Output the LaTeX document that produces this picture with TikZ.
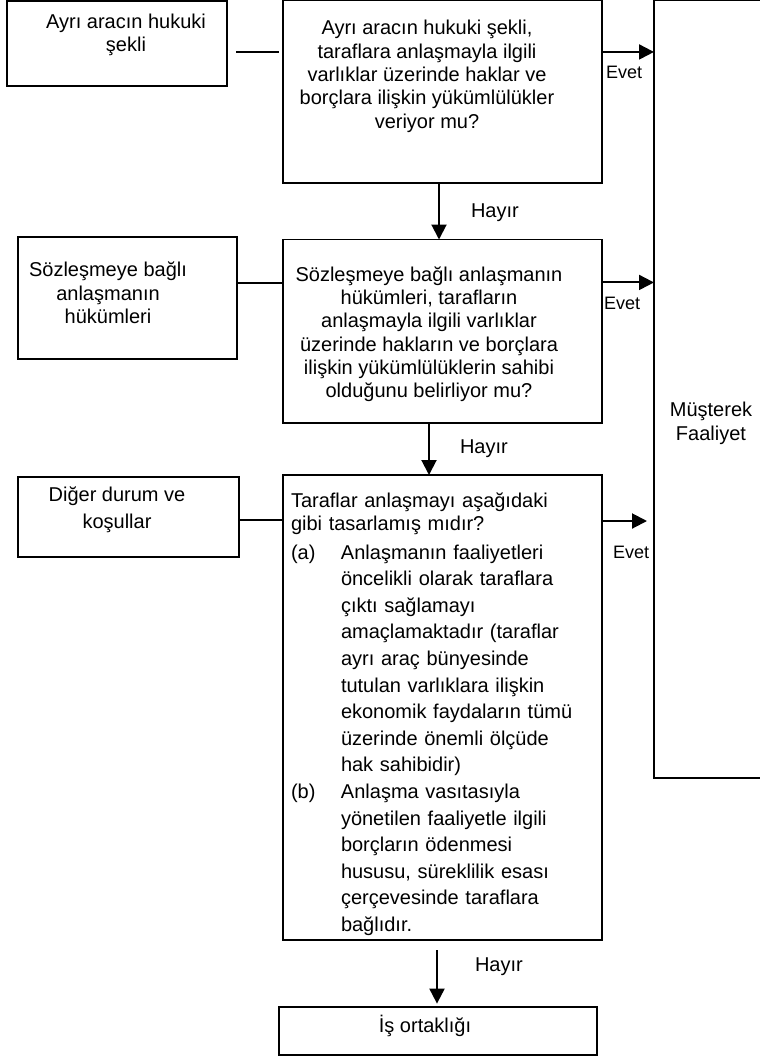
\documentclass[tikz,border=0pt]{standalone}
\usepackage{fontspec}
\setmainfont{Liberation Sans}
\usetikzlibrary{arrows.meta, positioning}
\newcommand{\qitem}[2]{\par\hangindent=25pt\hangafter=1\noindent\makebox[25pt][l]{#1}#2\par}

\begin{document}
\begin{tikzpicture}[>={Triangle[length=7.5pt, width=7.5pt]},
every node/.style={inner sep=0pt, outer sep=0pt},
boxframe/.style={rectangle, draw, line width=0.75pt},
txt/.style={align=center, font=\fontsize{10}{11.65}\selectfont},
answer/.style={font=\fontsize{9}{10.8}\selectfont},
link/.style={line width=0.7pt},
flow/.style={->, line width=1pt}]

  \useasboundingbox (0,0) rectangle (380pt,-528pt);

  % Questions
  \node[boxframe, minimum width=159.5pt, minimum height=91.25pt, anchor=north west] (legalq) at (141.5pt,-0.25pt) {};
  \node[boxframe, minimum width=159.5pt, minimum height=91.75pt, below=28.25pt of legalq] (contractq) {};
  \node[boxframe, minimum width=159.5pt, minimum height=232.5pt, below=26pt of contractq] (factsq) {};

  % Criteria
  \node[boxframe, minimum width=110pt, minimum height=42.5pt, below left=0.25pt and 28pt of legalq.north west] (legal) {};
  \node[boxframe, minimum width=109.5pt, minimum height=61pt, below left=-1.25pt and 23pt of contractq.north west] (contract) {};
  \node[boxframe, minimum width=110.5pt, minimum height=40pt, below left=1pt and 22pt of factsq.north west] (facts) {};

  % Outcomes
  \node[boxframe, minimum width=57pt, minimum height=388.75pt, below right=0pt and 26pt of legalq.north east] (jointop) {};
  \node[boxframe, minimum width=159pt, minimum height=24pt, below=33.5pt of factsq, xshift=-2.25pt] (jointven) {};

  % Texts
  \node[txt, below=6.3pt of legal.north, xshift=4.5pt] (legaltxt) {Ayrı aracın hukuki\\şekli};
  \node[txt, below=10pt of legalq.north, xshift=-7.75pt] (legalqtxt) {Ayrı aracın hukuki şekli,\\taraflara anlaşmayla ilgili\\varlıklar üzerinde haklar ve\\borçlara ilişkin yükümlülükler\\veriyor mu?};
  \node[txt, below=12.6pt of contract.north, xshift=-9.75pt] (contracttxt) {Sözleşmeye bağlı\\anlaşmanın\\hükümleri};
  \node[txt, below=13.5pt of contractq.north, xshift=-6.75pt] (contractqtxt) {Sözleşmeye bağlı anlaşmanın\\hükümleri, tarafların\\anlaşmayla ilgili varlıklar\\üzerinde hakların ve borçlara\\ilişkin yükümlülüklerin sahibi\\olduğunu belirliyor mu?};
  \node[txt, below=5.1pt of facts.north, xshift=-5.75pt] (factstxt) {Diğer durum ve\\[1.8pt]koşullar};
  \node[txt, align=left, text width=150pt, below right=8.8pt and 4pt of factsq.north west] (factsqtxt) {\noindent Taraflar anlaşmayı aşağıdaki\newline gibi tasarlamış mıdır?\par
    \vspace{0.9pt}\fontsize{10}{13.3}\selectfont
    \qitem{(a)}{Anlaşmanın faaliyetleri\newline öncelikli olarak taraflara\newline çıktı sağlamayı\newline amaçlamaktadır (taraflar\newline ayrı araç bünyesinde\newline tutulan varlıklara ilişkin\newline ekonomik faydaların tümü\newline üzerinde önemli ölçüde\newline hak sahibidir)}
    \qitem{(b)}{Anlaşma vasıtasıyla\newline yönetilen faaliyetle ilgili\newline borçların ödenmesi\newline hususu, süreklilik esası\newline çerçevesinde taraflara\newline bağlıdır.}};
  \node[txt, below=200.9pt of jointop.north] (jointoptxt) {Müşterek\\Faaliyet};
  \node[txt, xshift=-6.5pt, yshift=2.3pt] (jointventxt) at (jointven) {İş ortaklığı};

  % Criteria to questions
  \coordinate (legalend) at ([yshift=-4.25pt]legal.east);
  \coordinate (contractend) at ([yshift=7.6pt]contract.east);
  \coordinate (factsend) at ([yshift=-1.5pt]facts.east);
  \draw[link, shorten <=4.5pt, shorten >=2pt] (legalend) -- (legalend -| legalq.west);
  \draw[link] (contractend) -- (contractend -| contractq.west);
  \draw[link] (factsend) -- (factsend -| factsq.west);

  % Evet
  \coordinate (yes1) at ([yshift=19.9pt]legalq.east);
  \coordinate (yes2) at ([yshift=24.4pt]contractq.east);
  \coordinate (yes3) at ([yshift=93.25pt]factsq.east);
  \draw[flow] (yes1) -- (yes1 -| jointop.west) node[answer, pos=0, below right=7pt and 2pt] (evet1) {Evet};
  \draw[flow] (yes2) -- (yes2 -| jointop.west) node[answer, pos=0, below right=7.4pt and 1pt] (evet2) {Evet};
  \draw[flow, shorten >=3.5pt] (yes3) -- (yes3 -| jointop.west) node[answer, pos=0, below right=12.5pt and 5.5pt] (evet3) {Evet};

  % Hayir
  \coordinate (no1) at ([xshift=-1.75pt]legalq.south);
  \coordinate (no2) at ([xshift=-6.75pt]contractq.south);
  \coordinate (no3) at ([xshift=-2.75pt]factsq.south);
  \draw[flow] (no1) -- (no1 |- contractq.north) node[txt, midway, right=16pt, yshift=-0.9pt] (hayir1) {Hayır};
  \draw[flow] (no2) -- (no2 |- factsq.north) node[txt, midway, right=15.5pt] (hayir2) {Hayır};
  \draw[flow, shorten <=5pt, shorten >=1.7pt] (no3) -- (no3 |- jointven.north) node[txt, midway, right=19pt, yshift=3.5pt] (hayir3) {Hayır};

\end{tikzpicture}
\end{document}
